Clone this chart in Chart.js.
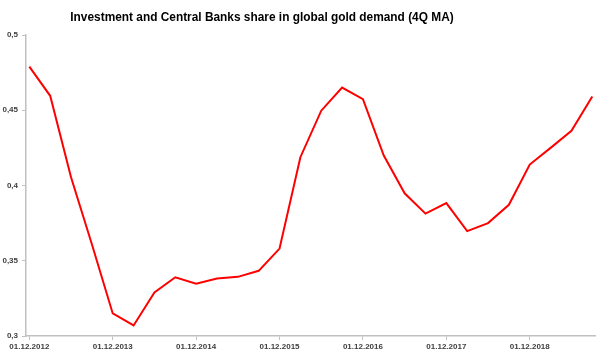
<!DOCTYPE html>
<html>
<head>
<meta charset="utf-8">
<script src="https://cdn.jsdelivr.net/npm/chart.js@4.4.1/dist/chart.umd.min.js"></script>
<style>
  html, body { margin: 0; padding: 0; background: #ffffff; }
  #wrap { width: 602px; height: 357px; position: relative; }
  canvas { display: block; }
</style>
</head>
<body>
<div id="wrap"><canvas id="c" width="602" height="357"></canvas></div>
<script>
const chartTitle = 'Investment and Central Banks share in global gold demand (4Q MA)';

const categories = [
  '01.12.2012', '01.03.2013', '01.06.2013', '01.09.2013',
  '01.12.2013', '01.03.2014', '01.06.2014', '01.09.2014',
  '01.12.2014', '01.03.2015', '01.06.2015', '01.09.2015',
  '01.12.2015', '01.03.2016', '01.06.2016', '01.09.2016',
  '01.12.2016', '01.03.2017', '01.06.2017', '01.09.2017',
  '01.12.2017', '01.03.2018', '01.06.2018', '01.09.2018',
  '01.12.2018', '01.03.2019', '01.06.2019', '01.09.2019'
];

const shareValues = [
  0.479, 0.4596, 0.4055, 0.361,
  0.315, 0.307, 0.329, 0.339,
  0.3348, 0.3382, 0.3393, 0.3433,
  0.3581, 0.4188, 0.4497, 0.4651,
  0.4574, 0.4199, 0.3948, 0.3813,
  0.3883, 0.3697, 0.375, 0.3872,
  0.4139, 0.425, 0.4364, 0.4591
];

const xTickLabels = ['01.12.2012', '01.12.2013', '01.12.2014', '01.12.2015', '01.12.2016', '01.12.2017', '01.12.2018'];
const yTickValues = [0.3, 0.35, 0.4, 0.45, 0.5];
const yTickLabels = ['0,3', '0,35', '0,4', '0,45', '0,5'];

const points = shareValues.map((v, i) => ({ x: i, y: v }));

const titlePlugin = {
  id: 'customTitle',
  afterDraw(chart) {
    const ctx = chart.ctx;
    ctx.save();
    const family = '"Liberation Sans", Arial, sans-serif';
    ctx.font = 'bold 14px ' + family;
    const w = ctx.measureText(chartTitle).width;
    let size = Math.min(14, 14 * 384 / w);
    ctx.font = 'bold ' + size.toFixed(2) + 'px ' + family;
    ctx.fillStyle = '#000000';
    ctx.textAlign = 'center';
    ctx.textBaseline = 'alphabetic';
    ctx.fillText(chartTitle, 262, 21);
    ctx.restore();
  }
};

const tickFont = { family: '"Liberation Sans", Arial, sans-serif', size: 8, weight: 'bold' };

new Chart(document.getElementById('c'), {
  type: 'line',
  data: {
    datasets: [{
      label: 'share',
      data: points,
      borderColor: '#ff0000',
      backgroundColor: '#ff0000',
      borderWidth: 2,
      pointRadius: 0,
      tension: 0,
      fill: false
    }]
  },
  options: {
    responsive: false,
    devicePixelRatio: 1,
    animation: false,
    layout: { padding: { top: 35, right: 7, bottom: 0, left: 0 } },
    plugins: {
      legend: { display: false },
      title: { display: false },
      tooltip: { enabled: false }
    },
    scales: {
      x: {
        type: 'linear',
        min: -0.16,
        max: 27.13,
        afterBuildTicks(scale) {
          scale.ticks = xTickLabels.map(l => ({ value: categories.indexOf(l) }));
        },
        afterFit(scale) { scale.height = 21; },
        grid: {
          drawOnChartArea: false,
          drawTicks: true,
          tickLength: 4,
          tickColor: '#c0c0c0'
        },
        border: { display: true, color: '#c0c0c0', width: 1.5 },
        ticks: {
          autoSkip: false,
          maxRotation: 0,
          padding: 2,
          color: '#404040',
          font: tickFont,
          callback: (v) => categories[Math.round(v)]
        }
      },
      y: {
        type: 'linear',
        min: 0.3,
        max: 0.5,
        afterBuildTicks(scale) {
          scale.ticks = yTickValues.map(v => ({ value: v }));
        },
        afterFit(scale) { scale.width = 26; },
        grid: {
          drawOnChartArea: false,
          drawTicks: true,
          tickLength: 4,
          tickColor: '#c0c0c0'
        },
        border: { display: true, color: '#c0c0c0', width: 1.5 },
        ticks: {
          padding: 4,
          color: '#404040',
          font: tickFont,
          callback: (v) => {
            const i = yTickValues.findIndex(t => Math.abs(t - v) < 1e-9);
            return i >= 0 ? yTickLabels[i] : '';
          }
        }
      }
    }
  },
  plugins: [titlePlugin]
});
</script>
</body>
</html>
